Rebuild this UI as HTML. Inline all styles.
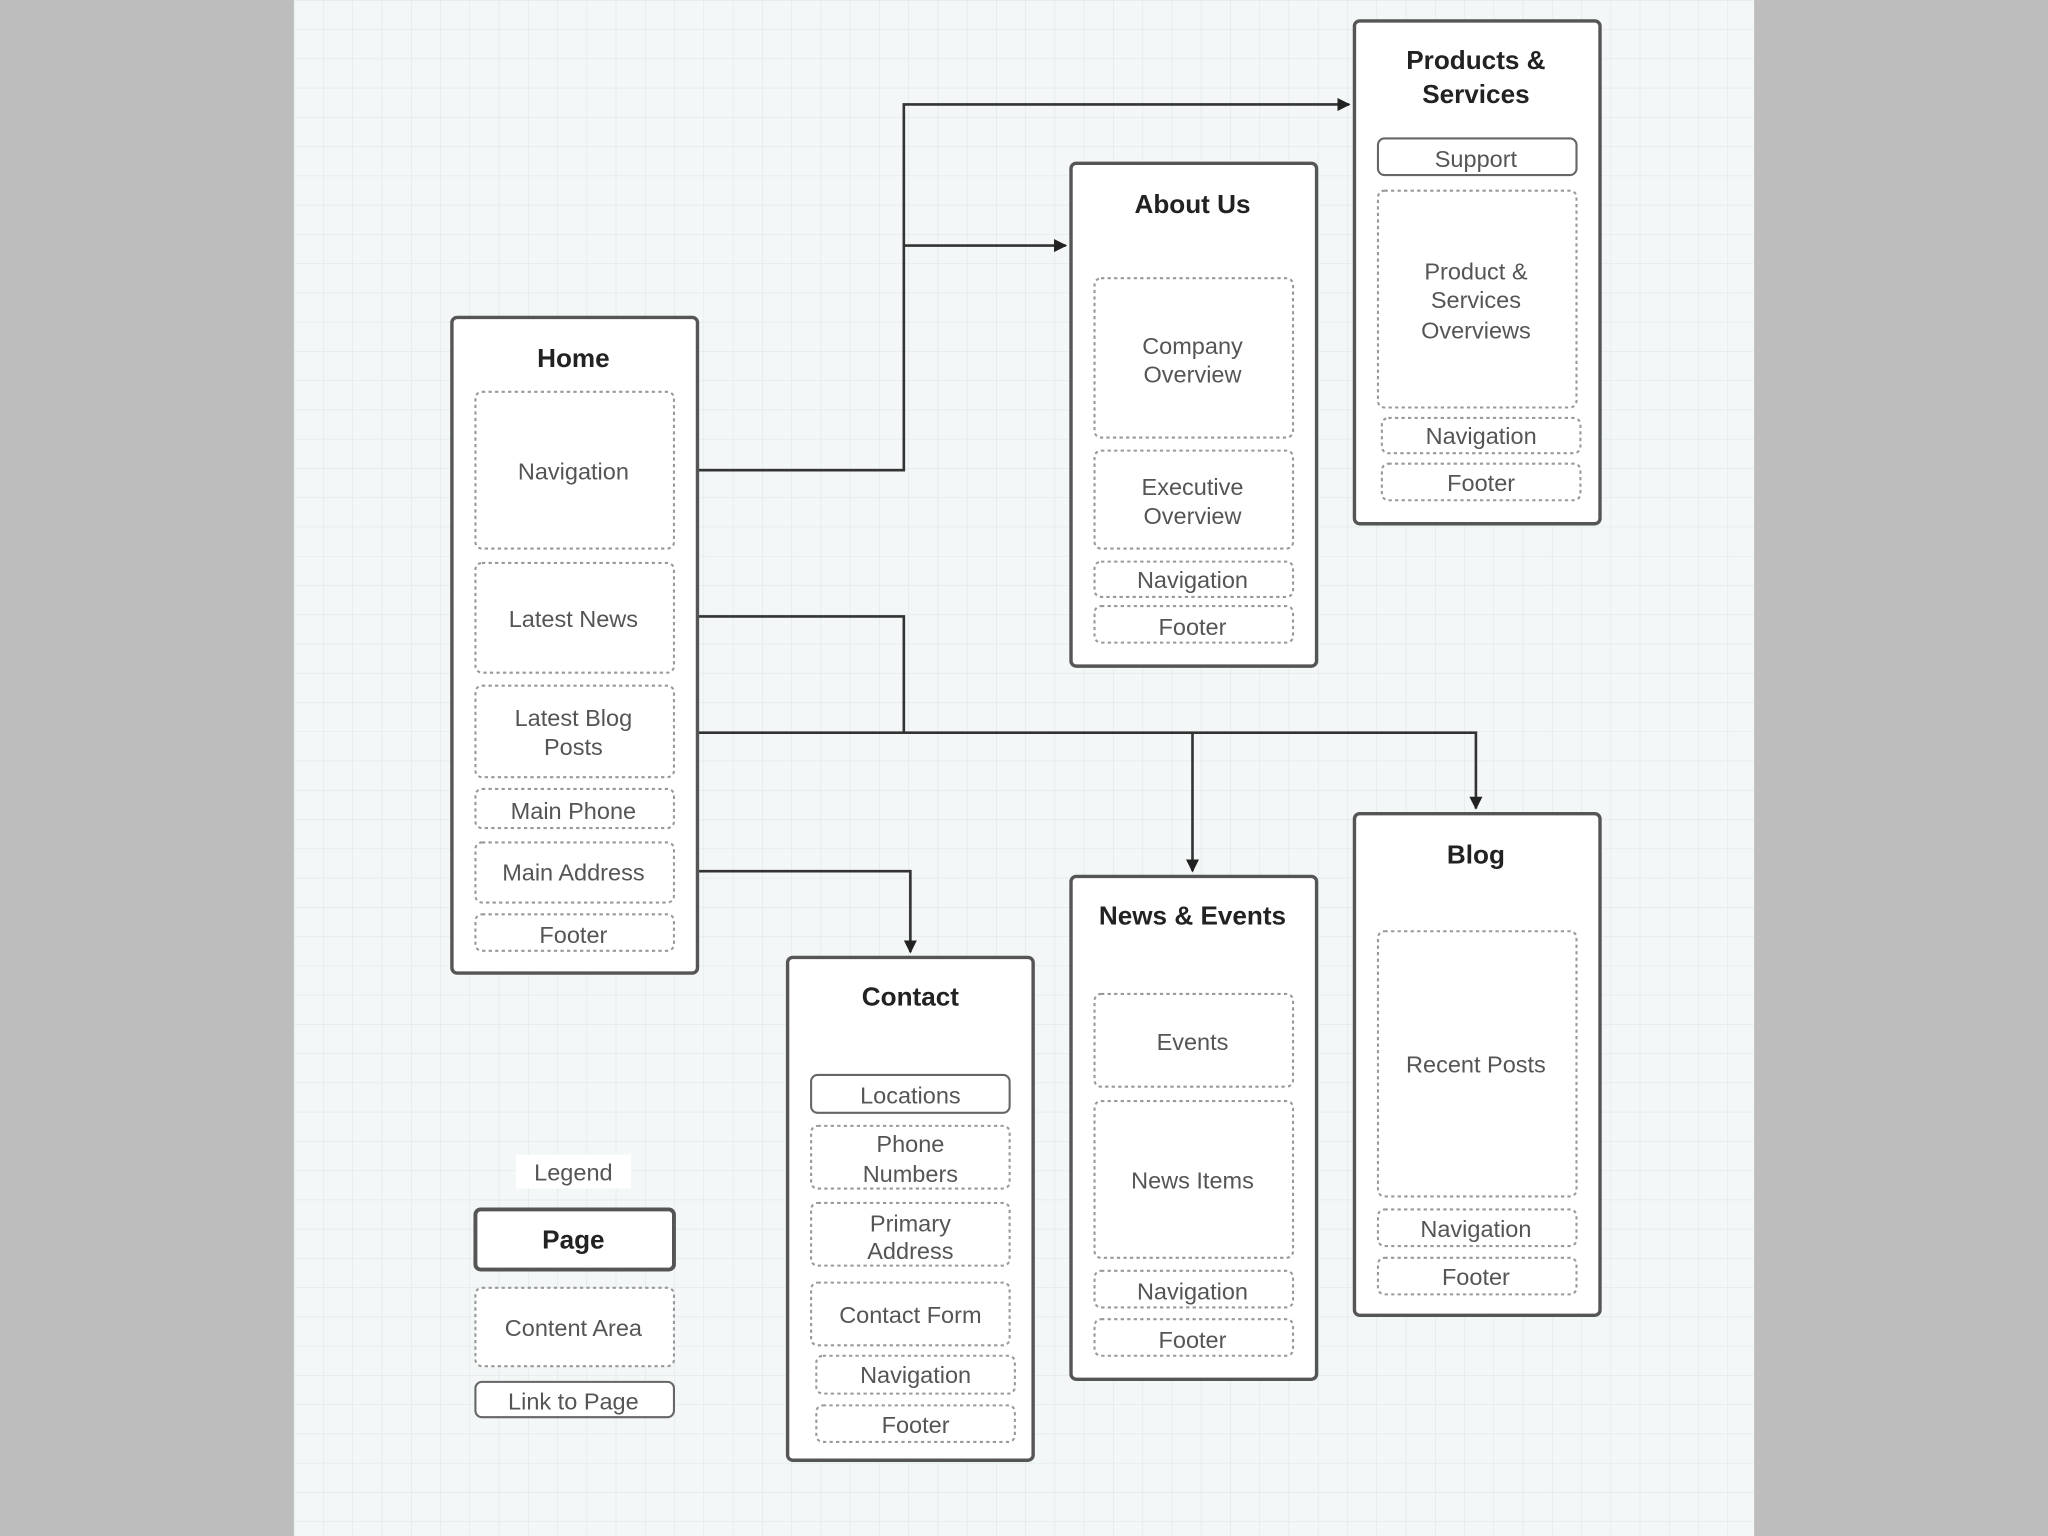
<!DOCTYPE html>
<html><head><meta charset="utf-8"><style>
html,body{margin:0;padding:0;background:#bdbdbd;}
svg{display:block;}
text{font-family:"Liberation Sans",sans-serif;}
.t{font-weight:bold;font-size:20px;fill:#222;text-anchor:middle;}
.c{font-size:18px;fill:#555;text-anchor:middle;}
.pg{fill:#fff;stroke:#555;stroke-width:2.6;}
.ca{fill:#fff;stroke:#999;stroke-width:1.6;stroke-dasharray:2.5 2.5;}
.lk{fill:#fff;stroke:#666;stroke-width:1.6;}
.ln{fill:none;stroke:#333;stroke-width:2;}
</style></head><body>
<svg width="2048" height="1536" viewBox="0 0 1568 1176" xmlns="http://www.w3.org/2000/svg">
<defs>
<pattern id="g" x="225" y="0" width="22.4" height="22.4" patternUnits="userSpaceOnUse">
<path d="M0 0H22.4M0 0V22.4" stroke="#dde8ea" stroke-width="1" fill="none"/>
</pattern>
<marker id="a" markerWidth="10" markerHeight="10" refX="9" refY="5" orient="auto" markerUnits="userSpaceOnUse"><path d="M0 0L10 5L0 10z" fill="#222"/></marker>
</defs>
<rect x="0" y="0" width="1568" height="1176" fill="#bdbdbd"/>
<rect x="225" y="0" width="1118" height="1176" fill="#f4f7f7"/>
<rect x="225" y="0" width="1118" height="1176" fill="url(#g)"/>

<!-- connectors -->
<path class="ln" d="M516 360H692V80H1033" marker-end="url(#a)"/>
<path class="ln" d="M692 188H816" marker-end="url(#a)"/>
<path class="ln" d="M516 472H692V561"/>
<path class="ln" d="M516 561H1130V619" marker-end="url(#a)"/>
<path class="ln" d="M913 561V667" marker-end="url(#a)"/>
<path class="ln" d="M516 667H697V729" marker-end="url(#a)"/>

<!-- Home -->
<rect class="pg" x="346" y="243" width="188" height="502" rx="4"/>
<text class="t" x="439" y="281">Home</text>
<rect class="ca" x="364" y="300" width="152" height="120" rx="5"/><text class="c" x="439" y="367">Navigation</text>
<rect class="ca" x="364" y="431" width="152" height="84" rx="5"/><text class="c" x="439" y="480">Latest News</text>
<rect class="ca" x="364" y="525" width="152" height="70" rx="5"/><text class="c" x="439" y="556">Latest Blog</text><text class="c" x="439" y="578">Posts</text>
<rect class="ca" x="364" y="604" width="152" height="30" rx="5"/><text class="c" x="439" y="627">Main Phone</text>
<rect class="ca" x="364" y="645" width="152" height="46" rx="5"/><text class="c" x="439" y="674">Main Address</text>
<rect class="ca" x="364" y="700" width="152" height="28" rx="5"/><text class="c" x="439" y="722">Footer</text>

<!-- About Us -->
<rect class="pg" x="820" y="125" width="188" height="385" rx="4"/>
<text class="t" x="913" y="163">About Us</text>
<rect class="ca" x="838" y="213" width="152" height="122" rx="5"/><text class="c" x="913" y="271">Company</text><text class="c" x="913" y="293">Overview</text>
<rect class="ca" x="838" y="345" width="152" height="75" rx="5"/><text class="c" x="913" y="379">Executive</text><text class="c" x="913" y="401">Overview</text>
<rect class="ca" x="838" y="430" width="152" height="27" rx="5"/><text class="c" x="913" y="450">Navigation</text>
<rect class="ca" x="838" y="464" width="152" height="28" rx="5"/><text class="c" x="913" y="486">Footer</text>

<!-- Products -->
<rect class="pg" x="1037" y="16" width="188" height="385" rx="4"/>
<text class="t" x="1130" y="53">Products &amp;</text><text class="t" x="1130" y="79">Services</text>
<rect class="lk" x="1055" y="106" width="152" height="28" rx="5"/><text class="c" x="1130" y="128">Support</text>
<rect class="ca" x="1055" y="146" width="152" height="166" rx="5"/><text class="c" x="1130" y="214">Product &amp;</text><text class="c" x="1130" y="236">Services</text><text class="c" x="1130" y="259">Overviews</text>
<rect class="ca" x="1058" y="320" width="152" height="27" rx="5"/><text class="c" x="1134" y="340">Navigation</text>
<rect class="ca" x="1058" y="355" width="152" height="28" rx="5"/><text class="c" x="1134" y="376">Footer</text>

<!-- Contact -->
<rect class="pg" x="603" y="733" width="188" height="385" rx="4"/>
<text class="t" x="697" y="770">Contact</text>
<rect class="lk" x="621" y="823" width="152" height="29" rx="5"/><text class="c" x="697" y="845">Locations</text>
<rect class="ca" x="621" y="862" width="152" height="48" rx="5"/><text class="c" x="697" y="882">Phone</text><text class="c" x="697" y="905">Numbers</text>
<rect class="ca" x="621" y="921" width="152" height="48" rx="5"/><text class="c" x="697" y="943">Primary</text><text class="c" x="697" y="964">Address</text>
<rect class="ca" x="621" y="982" width="152" height="48" rx="5"/><text class="c" x="697" y="1013">Contact Form</text>
<rect class="ca" x="625" y="1038" width="152" height="29" rx="5"/><text class="c" x="701" y="1059">Navigation</text>
<rect class="ca" x="625" y="1076" width="152" height="28" rx="5"/><text class="c" x="701" y="1097">Footer</text>

<!-- News & Events -->
<rect class="pg" x="820" y="671" width="188" height="385" rx="4"/>
<text class="t" x="913" y="708">News &amp; Events</text>
<rect class="ca" x="838" y="761" width="152" height="71" rx="5"/><text class="c" x="913" y="804">Events</text>
<rect class="ca" x="838" y="843" width="152" height="120" rx="5"/><text class="c" x="913" y="910">News Items</text>
<rect class="ca" x="838" y="973" width="152" height="28" rx="5"/><text class="c" x="913" y="995">Navigation</text>
<rect class="ca" x="838" y="1010" width="152" height="28" rx="5"/><text class="c" x="913" y="1032">Footer</text>

<!-- Blog -->
<rect class="pg" x="1037" y="623" width="188" height="384" rx="4"/>
<text class="t" x="1130" y="661">Blog</text>
<rect class="ca" x="1055" y="713" width="152" height="203" rx="5"/><text class="c" x="1130" y="821">Recent Posts</text>
<rect class="ca" x="1055" y="926" width="152" height="28" rx="5"/><text class="c" x="1130" y="947">Navigation</text>
<rect class="ca" x="1055" y="963" width="152" height="28" rx="5"/><text class="c" x="1130" y="984">Footer</text>

<!-- Legend -->
<rect x="395" y="884" width="88" height="26" fill="#fff"/>
<text class="c" x="439" y="904">Legend</text>
<rect class="pg" x="364" y="926" width="152" height="46" rx="4" style="stroke-width:3"/>
<text class="t" x="439" y="956">Page</text>
<rect class="ca" x="364" y="986" width="152" height="60" rx="5"/><text class="c" x="439" y="1023">Content Area</text>
<rect class="lk" x="364" y="1058" width="152" height="27" rx="5"/><text class="c" x="439" y="1079">Link to Page</text>
</svg>
</body></html>
